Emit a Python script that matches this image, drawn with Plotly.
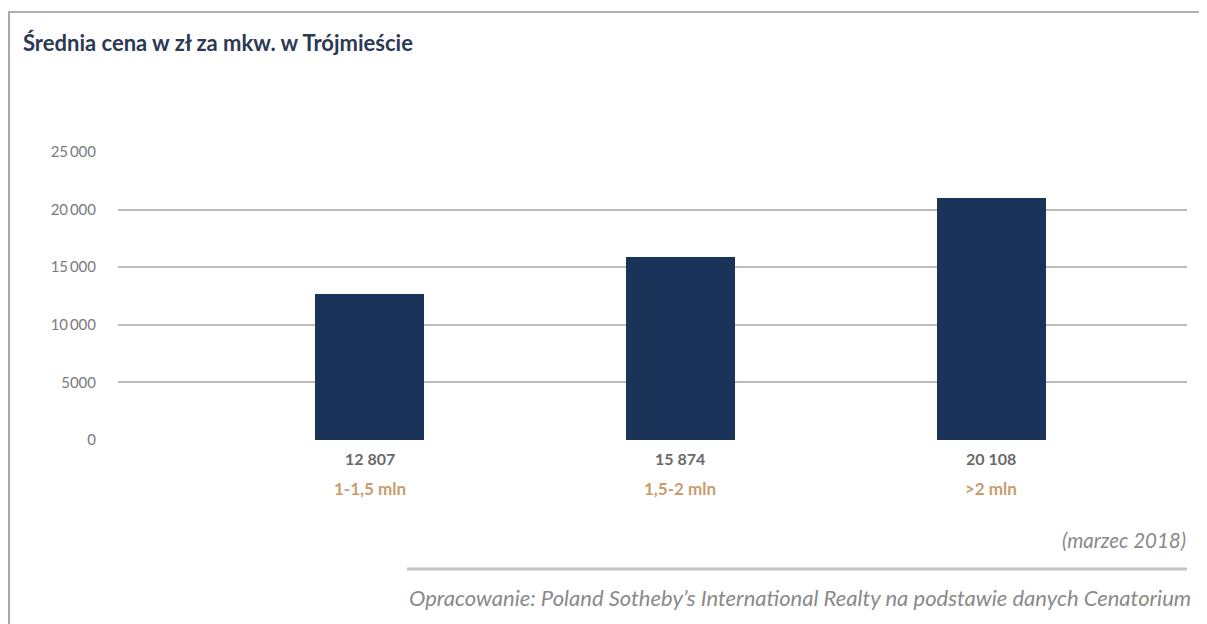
import plotly.graph_objects as go

categories = ["1-1,5 mln", "1,5-2 mln", ">2 mln"]
value_labels = ["12 807", "15 874", "20 108"]
bar_heights = [12700, 15870, 21000]
y_ticks = [0, 5000, 10000, 15000, 20000, 25000]
y_tick_labels = ["0", "5000", "10\u2009000", "15\u2009000", "20\u2009000", "25\u2009000"]

title = "Średnia cena w zł za mkw. w Trójmieście"
date_note = "(marzec 2018)"
source_note = "Opracowanie: Poland Sotheby’s International Realty na podstawie danych Cenatorium"

OFF = 8  # page body margin
W, H = 1207 - OFF, 624 - OFF
# plot area in page pixels: x 118..1187, y 152..440
L = 118 - OFF
R = W - (1187 - OFF)
T = 152 - OFF
B = H - (440 - OFF)
pw, ph = W - L - R, H - T - B

def px_x(p):
    return (p - OFF - L) / pw

def px_y(p):
    return (H - B - (p - OFF)) / ph

fig = go.Figure()
fig.add_trace(go.Bar(
    x=categories, y=bar_heights, width=0.35,
    marker=dict(color="#1a3359", line=dict(width=0)),
    hoverinfo="skip",
))

annotations = []
for c, v in zip(categories, value_labels):
    annotations.append(dict(x=c, y=px_y(458), xref="x", yref="paper", text=f"<b>{v}</b>",
                            showarrow=False, font=dict(family="Lato", size=16, color="#6a6a6a"),
                            xanchor="center", yanchor="middle"))
    annotations.append(dict(x=c, y=px_y(488), xref="x", yref="paper", text=f"<b>{c}</b>",
                            showarrow=False, font=dict(family="Lato", size=17, color="#c99c6c"),
                            xanchor="center", yanchor="middle"))
annotations.append(dict(x=px_x(21), y=px_y(43), xref="paper", yref="paper", text=f"<b>{title}</b>",
                        showarrow=False, font=dict(family="Lato", size=22, color="#2b3955"),
                        xanchor="left", yanchor="middle"))
annotations.append(dict(x=px_x(1188), y=px_y(540), xref="paper", yref="paper", text=f"<i>{date_note}</i>",
                        showarrow=False, font=dict(family="Lato", size=20.5, color="#8a8a8a"),
                        xanchor="right", yanchor="middle"))
annotations.append(dict(x=px_x(407), y=px_y(597), xref="paper", yref="paper", text=f"<i>{source_note}</i>",
                        showarrow=False, font=dict(family="Lato", size=22, color="#8a8a8a"),
                        xanchor="left", yanchor="middle"))

shapes = [
    dict(type="line", xref="paper", yref="paper", x0=px_x(9), x1=px_x(9), y0=px_y(12), y1=px_y(640),
         line=dict(color="#a8a8a8", width=2)),
    dict(type="line", xref="paper", yref="paper", x0=px_x(8), x1=px_x(1210), y0=px_y(12), y1=px_y(12),
         line=dict(color="#b0b0b0", width=2)),
    dict(type="line", xref="paper", yref="paper", x0=px_x(407), x1=px_x(1187), y0=px_y(569), y1=px_y(569),
         line=dict(color="#c4c4c4", width=3)),
]

fig.update_layout(
    width=W, height=H,
    margin=dict(l=L, r=R, t=T, b=B),
    paper_bgcolor="white", plot_bgcolor="white",
    showlegend=False,
    bargap=0,
    xaxis=dict(type="category", range=[-0.81, 2.63], showticklabels=False, showgrid=False,
               zeroline=False, showline=False, ticks=""),
    yaxis=dict(range=[0, 25000], tickvals=y_ticks, ticktext=y_tick_labels,
               showgrid=True, gridcolor="#bdbdbd", gridwidth=1.6, zeroline=False,
               ticks="", ticklabelstandoff=21,
               tickfont=dict(family="Lato", size=15, color="#7a7a7a")),
    annotations=annotations,
    shapes=shapes,
)

fig.write_html("out.html")
